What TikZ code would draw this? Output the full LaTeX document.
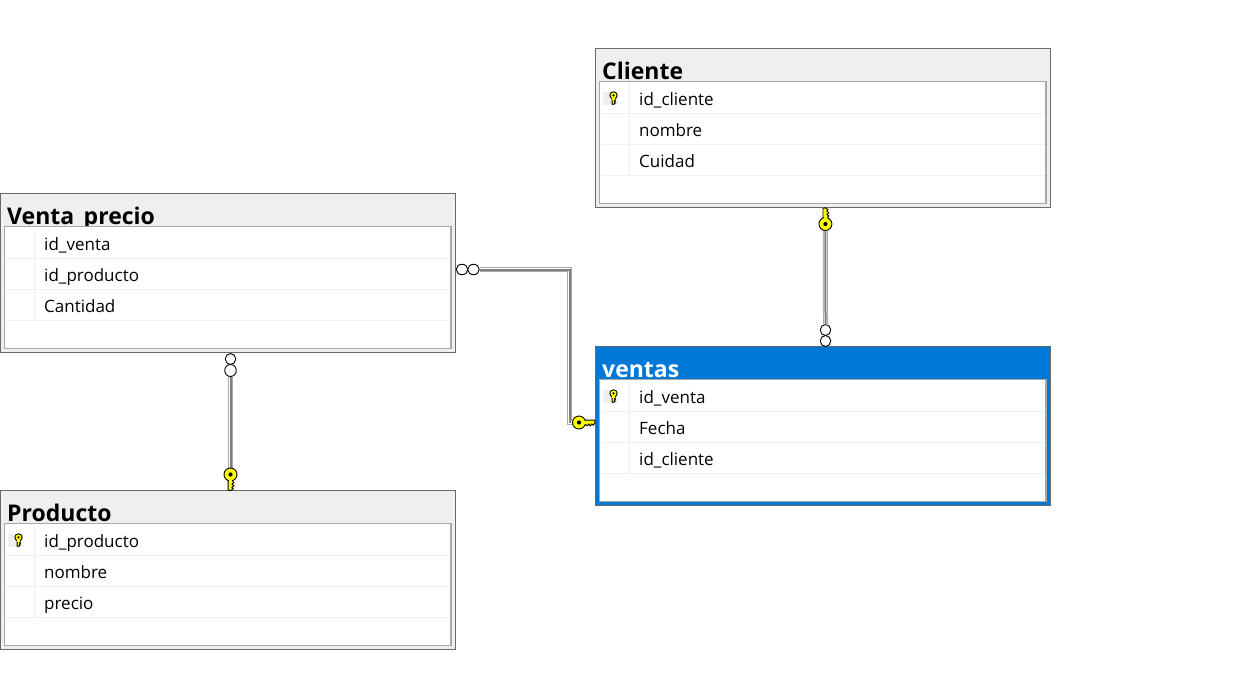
\documentclass[tikz,border=0pt]{standalone}
\usepackage{fontspec}
\setmainfont{Open Sans}
\usetikzlibrary{shapes.geometric}
\definecolor{titlegrey}{HTML}{EFEFEF}
\definecolor{selblue}{HTML}{0078D7}
\definecolor{edgegrey}{HTML}{696969}
\definecolor{innergrey}{HTML}{A8A8A8}
\definecolor{rowline}{HTML}{F0F0F0}
\definecolor{keyyellow}{HTML}{FFFF00}
\tikzset{
  x=1pt,y=-1pt,
  tablebox/.style={draw=edgegrey,line width=1pt,rectangle,anchor=north west,minimum width=455pt,minimum height=158.8pt,inner sep=0pt,outer sep=0pt},
  tabletitle/.style={anchor=base west,inner sep=0pt,font=\fontsize{23}{26}\selectfont\bfseries},
  rowtext/.style={anchor=base west,inner sep=0pt,text=black,font=\fontsize{17}{20}\selectfont},
  innerbox/.style={draw=innergrey,line width=1.1pt,fill=white},
  rowrule/.style={draw=rowline,line width=1pt},
  ringnode/.style={ellipse,draw=black,fill=white,line width=0.9pt,inner sep=0pt,minimum width=10.5pt,minimum height=11pt},
  ringwide/.style={ellipse,draw=black,fill=white,line width=0.9pt,inner sep=0pt,minimum width=11.5pt,minimum height=10.5pt},
  keyshape/.style={draw=black,fill=keyyellow,line width=0.9pt,line join=round},
  linkbase/.style={draw=innergrey,line width=5pt,line join=miter},
  linkcore/.style={draw=white,line width=3pt,line join=miter},
  linkdark/.style={draw=black!50,line width=2pt,line join=miter},
}
% key: head centred on origin, shaft upward, notches on the right
\newcommand{\keyglyph}{%
  \path[keyshape] (-2.4,-5) -- (-2.4,-15.6) -- (-0.4,-16.2) -- (2.8,-14.4) -- (1.4,-12.8) -- (3.6,-11.2) -- (1.4,-9.6) -- (3.4,-8.2) -- (2.4,-7) -- (2.4,-5) -- cycle;
  \path[keyshape] (0,0) circle[radius=6.5];
  \path[fill=keyyellow] (-1.9,-7.6) rectangle (1.9,-5);
  \path[fill=black] (0,0) circle[radius=2.1];
}
\newcommand{\dbtable}[9]{%
  % name x y title titlefill titletext r1 r2 r3
  \node[tablebox,fill=#5] (#1) at (#2,#3) {};
  \node[tabletitle,text=#6] (#1-title) at (#2+6.5,#3+30.5) {#4};
  \path[innerbox] (#2+4,#3+33) rectangle (#2+450.5,#3+154.5);
  \draw[rowrule] (#2+5,#3+65) -- (#2+449.5,#3+65);
  \draw[rowrule] (#2+5,#3+96) -- (#2+449.5,#3+96);
  \draw[rowrule] (#2+5,#3+127) -- (#2+449.5,#3+127);
  \draw[rowrule] (#2+34,#3+34) -- (#2+34,#3+127);
  \node[rowtext] (#1-r1) at (#2+43.5,#3+56.5) {#7};
  \node[rowtext] (#1-r2) at (#2+43.5,#3+87.5) {#8};
  \node[rowtext] (#1-r3) at (#2+43.5,#3+118.5) {#9};
}
\newcommand{\rowkey}[2]{%
  \path[fill=titlegrey] (#1+7.5,#2+43.5) rectangle (#1+22,#2+56.5);
  \begin{scope}[shift={(#1+18,#2+46.7)},scale=0.56,yscale=-1]
    \keyglyph
  \end{scope}
}
\begin{document}
\begin{tikzpicture}
\useasboundingbox[fill=white] (0,0) rectangle (1239,698);

\dbtable{cliente}{595.5}{48.7}{Cliente}{titlegrey}{black}{id\_cliente}{nombre}{Cuidad}
\rowkey{595.5}{48.7}
\dbtable{ventaprecio}{0.5}{193.7}{Venta\_precio}{titlegrey}{black}{id\_venta}{id\_producto}{Cantidad}
\dbtable{producto}{0.5}{490.7}{Producto}{titlegrey}{black}{id\_producto}{nombre}{precio}
\rowkey{0.5}{490.7}
\dbtable{ventas}{595.5}{346.7}{ventas}{selblue}{white}{id\_venta}{Fecha}{id\_cliente}
\rowkey{595.5}{346.7}

% link end points
\node[ringnode] (ca) at (825.5,330) {};
\node[ringnode] (cb) at (825.5,341) {};
\coordinate (kc) at (825.4,224);
\node[ringnode] (pa) at (230.5,359) {};
\node[ringwide,minimum height=12pt] (pb) at (230.5,370.5) {};
\coordinate (kp) at (230.5,474.5);
\node[ringwide] (va) at (462,269.5) {};
\node[ringwide] (vb) at (473.5,269.5) {};
\coordinate (kv) at (579,422.5);
\coordinate (bend) at (569.5,269.5);
\coordinate (bendb) at (569.5,422.5);

% links
\foreach \sty in {linkbase,linkcore}{
  \draw[\sty] (ca.north) -- (kc);
  \draw[\sty] (pb.south) -- (kp);
  \draw[\sty] (vb.east) -- (bend) -- (bendb) -- (kv);
}
\begin{scope}[shift={(0.5,0)}]
  \draw[linkdark] (ca.north) -- (kc);
  \draw[linkdark] (pb.south) -- (kp);
\end{scope}
\draw[linkdark] ([yshift=-0.5pt]vb.east) -- ([shift={(0.5pt,-0.5pt)}]bend) -- ([xshift=0.5pt]bendb);

% keys
\begin{scope}[shift={(kc)}]\keyglyph\end{scope}
\begin{scope}[shift={(kp)},yscale=-1]\keyglyph\end{scope}
\begin{scope}[shift={(kv)},rotate=-90]\keyglyph\end{scope}
\end{tikzpicture}
\end{document}
